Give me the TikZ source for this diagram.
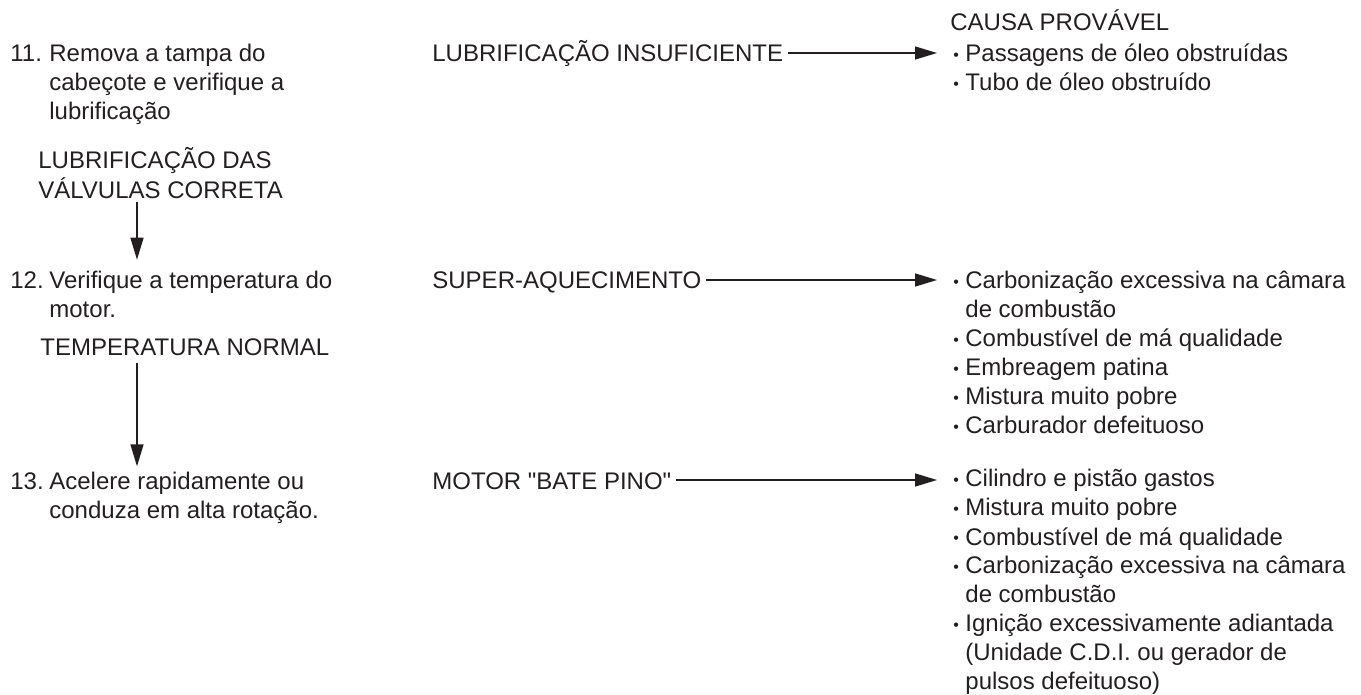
\documentclass[tikz,border=0pt]{standalone}
\usepackage{fontspec}
\setmainfont{Liberation Sans}
\usepackage{xcolor}
\usetikzlibrary{arrows.meta,positioning}
\definecolor{ink}{RGB}{35,31,32}
\newcommand{\bul}{\raisebox{0.6pt}{\fontsize{8}{8}\selectfont •}}
\newcommand{\numlines}[1]{\begin{tabular}[t]{@{}p{19.5pt}@{}l@{}}#1\end{tabular}}
\newcommand{\bullines}[1]{\begin{tabular}[t]{@{}p{6pt}@{}l@{}}#1\end{tabular}}
\newcommand{\plainlines}[1]{\begin{tabular}[t]{@{}l@{}}#1\end{tabular}}
\tikzset{
  stepnote/.style={anchor=base west, inner sep=1pt, text=ink,
    font=\fontsize{12}{14.5}\selectfont},
  result/.style={stepnote, inner sep=2pt},
  flowarrow/.style={-{Triangle[length=11pt,width=6.5pt]}, line width=0.7pt, ink},
}

\begin{document}
\begin{tikzpicture}[x=0.5pt, y=-0.5pt]
\useasboundingbox (0,0) rectangle (1361,695);

% left column: checks
\node[stepnote] (step11) at (8,62) {\numlines{11.&Remova a tampa do\\&cabeçote e verifique a\\&lubrificação}};
\node[stepnote] (ok11) at (36,169) {\plainlines{LUBRIFICAÇÃO DAS\\VÁLVULAS CORRETA}};
\node[stepnote] (step12) at (8,289) {\numlines{12.&Verifique a temperatura do\\&motor.}};
\node[stepnote] (ok12) at (38,356) {\plainlines{TEMPERATURA NORMAL}};
\node[stepnote] (step13) at (8,489) {\numlines{13.&Acelere rapidamente ou\\&conduza em alta rotação.}};

% middle column: symptoms
\node[result] (lubins) at (428,62) {LUBRIFICAÇÃO INSUFICIENTE};
\node[result] (overheat) at (428,289) {SUPER-AQUECIMENTO};
\node[result] (knock) at (428,489) {MOTOR \textquotedbl BATE PINO\textquotedbl};

% right column: causes
\node[stepnote] (causehead) at (948,31) {CAUSA PROVÁVEL};
\node[stepnote] (lubcause) at (951,62) {\bullines{\bul&Passagens de óleo obstruídas\\\bul&Tubo de óleo obstruído}};
\node[stepnote] (hotcause) at (951,289) {\bullines{\bul&Carbonização excessiva na câmara\\&de combustão\\\bul&Combustível de má qualidade\\\bul&Embreagem patina\\\bul&Mistura muito pobre\\\bul&Carburador defeituoso}};
\node[stepnote] (knockcause) at (951,487) {\bullines{\bul&Cilindro e pistão gastos\\\bul&Mistura muito pobre\\\bul&Combustível de má qualidade\\\bul&Carbonização excessiva na câmara\\&de combustão\\\bul&Ignição excessivamente adiantada\\&(Unidade C.D.I. ou gerador de\\&pulsos defeituoso)}};

\coordinate (downx) at (137,0);
\coordinate (lubarrow) at ([yshift=4.5pt]lubins.base east);
\coordinate (hotarrow) at ([yshift=4.5pt]overheat.base east);
\coordinate (knockarrow) at ([yshift=4.5pt]knock.base east);

\draw[flowarrow, shorten <=-4pt, shorten >=3.3pt] (ok11.south -| downx) -- (step12.north -| downx);
\draw[flowarrow, shorten <=-1.8pt] (ok12.south -| downx) -- (step13.north -| downx);
\draw[flowarrow, shorten >=7pt] (lubarrow) -- (lubarrow -| lubcause.west);
\draw[flowarrow, shorten >=7pt] (hotarrow) -- (hotarrow -| hotcause.west);
\draw[flowarrow, shorten >=7pt] (knockarrow) -- (knockarrow -| knockcause.west);
\end{tikzpicture}
\end{document}
